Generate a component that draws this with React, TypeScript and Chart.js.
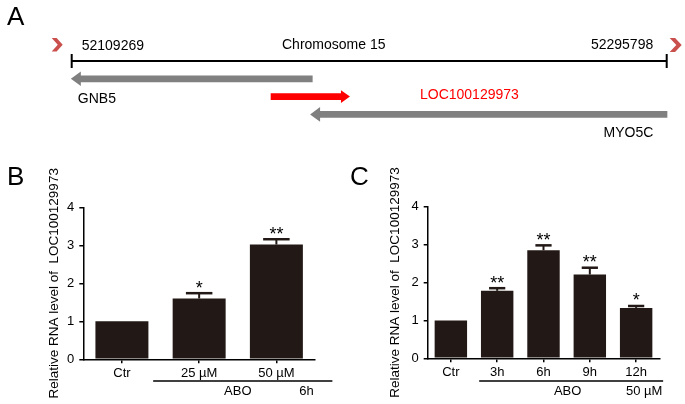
import React, { useEffect, useRef } from 'react';
import { Chart, registerables } from 'chart.js';

Chart.register(...registerables);

const FONT = 'Arial, "Liberation Sans", Helvetica, sans-serif';
const BAR_COLOR = '#221815';

// ---------- Panel A data ----------
const chromosomeName = 'Chromosome 15';
const chromStart = 52109269;
const chromEnd = 52295798;
const geneNames = ['GNB5', 'LOC100129973', 'MYO5C'];
const geneStarts = [52109000, 52171650, 52184000];
const geneEnds = [52184800, 52196500, 52296000];
const geneStrands = [-1, 1, -1];
const geneColors = ['#808080', '#ff0000', '#808080'];
const geneRows = [1, 2, 3];

// ---------- Panel B data ----------
const bCategories = ['Ctr', '25 µM', '50 µM'];
const bValues = [1.0, 1.6, 3.02];
const bErrors = [0, 0.14, 0.14];
const bStars = ['', '*', '**'];
const bGroupLabel = 'ABO';
const bGroupNote = '6h';

// ---------- Panel C data ----------
const cCategories = ['Ctr', '3h', '6h', '9h', '12h'];
const cValues = [1.0, 1.78, 2.85, 2.21, 1.33];
const cErrors = [0, 0.07, 0.13, 0.18, 0.05];
const cStars = ['', '**', '**', '**', '*'];
const cGroupLabel = 'ABO';
const cGroupNote = '50 µM';

const yTicks = [0, 1, 2, 3, 4];
const yTitle = 'Relative RNA level of  LOC100129973';

function drawChevron(ctx: CanvasRenderingContext2D, x: number, y: number, w: number, h: number) {
  ctx.beginPath();
  ctx.moveTo(x, y);
  ctx.lineTo(x + w * 0.45, y);
  ctx.lineTo(x + w, y + h / 2);
  ctx.lineTo(x + w * 0.45, y + h);
  ctx.lineTo(x, y + h);
  ctx.lineTo(x + w * 0.55, y + h / 2);
  ctx.closePath();
  ctx.fill();
}

const panelAPlugin = {
  id: 'panelA',
  afterDatasetsDraw(chart: any) {
    const ctx: CanvasRenderingContext2D = chart.ctx;
    const xs = chart.scales.x;
    const ys = chart.scales.y;
    ctx.save();
    // gene arrows
    geneNames.forEach((g, i) => {
      const meta = chart.getDatasetMeta(i + 1);
      const p0 = meta.data[0];
      const p1 = meta.data[1];
      const y = p0.y;
      const strand = geneStrands[i];
      const tipX = strand < 0 ? p0.x : p1.x;
      const tailX = strand < 0 ? p1.x : p0.x;
      const dir = strand < 0 ? 1 : -1; // direction from tip towards tail
      const L = i === 1 ? 9 : 10;
      const H = i === 1 ? 6.3 : 7.3;
      const s = 3.4;
      ctx.fillStyle = geneColors[i];
      ctx.beginPath();
      ctx.moveTo(tipX, y);
      ctx.lineTo(tipX + dir * L, y - H);
      ctx.lineTo(tipX + dir * L, y - s);
      ctx.lineTo(tailX, y - s);
      ctx.lineTo(tailX, y + s);
      ctx.lineTo(tipX + dir * L, y + s);
      ctx.lineTo(tipX + dir * L, y + H);
      ctx.closePath();
      ctx.fill();
    });

    const x0 = xs.getPixelForValue(chromStart);
    const x1 = xs.getPixelForValue(chromEnd);
    const yc = ys.getPixelForValue(0);

    ctx.font = `14px ${FONT}`;
    ctx.textBaseline = 'middle';
    ctx.fillStyle = '#000';
    ctx.textAlign = 'left';
    ctx.fillText(String(chromStart), x0 + 10, yc - 14.5);
    ctx.fillText(chromosomeName, 282, yc - 16);
    ctx.textAlign = 'right';
    ctx.fillText(String(chromEnd), x1 - 13.5, yc - 16);

    // gene labels
    const gy = (i: number) => ys.getPixelForValue(geneRows[i]);
    ctx.textAlign = 'left';
    ctx.fillStyle = '#000';
    ctx.fillText(geneNames[0], xs.getPixelForValue(geneStarts[0]) + 7, gy(0) + 20.5);
    ctx.fillStyle = geneColors[1];
    ctx.fillText(geneNames[1], xs.getPixelForValue(geneEnds[1]) + 70, gy(1) - 1.5);
    ctx.fillStyle = '#000';
    ctx.textAlign = 'right';
    ctx.fillText(geneNames[2], xs.getPixelForValue(geneEnds[2]) - 14, gy(2) + 18.7);

    // chevrons
    ctx.fillStyle = '#c9504d';
    drawChevron(ctx, x0 - 20, yc - 23, 11, 13.5);
    drawChevron(ctx, x1 + 3, yc - 23, 12, 14);

    // panel letter
    ctx.fillStyle = '#000';
    ctx.textAlign = 'left';
    ctx.textBaseline = 'alphabetic';
    ctx.font = `26px ${FONT}`;
    ctx.fillText('A', 7, 25);
    ctx.restore();
  },
};

function makeBarPlugin(
  errors: number[],
  stars: string[],
  letter: string,
  letterX: number,
  group: { label: string; note: string; from: (p: (i: number) => number) => number; to: (p: (i: number) => number) => number; labelX: (p: (i: number) => number) => number; noteX: (p: (i: number) => number) => number; lineDy: number; textDy: number }
) {
  return {
    id: 'barExtras',
    afterDatasetsDraw(chart: any) {
      const ctx: CanvasRenderingContext2D = chart.ctx;
      const meta = chart.getDatasetMeta(0);
      const ys = chart.scales.y;
      const xs = chart.scales.x;
      const vals = chart.data.datasets[0].data as number[];
      ctx.save();
      meta.data.forEach((bar: any, i: number) => {
        const e = errors[i];
        const yTop = ys.getPixelForValue(vals[i] + e);
        if (e > 0) {
          ctx.strokeStyle = BAR_COLOR;
          ctx.lineWidth = 2;
          ctx.beginPath();
          ctx.moveTo(bar.x, bar.y);
          ctx.lineTo(bar.x, yTop);
          ctx.stroke();
          ctx.lineWidth = 2.5;
          const hw = bar.width / 4;
          ctx.beginPath();
          ctx.moveTo(bar.x - hw, yTop);
          ctx.lineTo(bar.x + hw, yTop);
          ctx.stroke();
        }
        if (stars[i]) {
          ctx.font = `18px ${FONT}`;
          ctx.textAlign = 'center';
          ctx.textBaseline = 'alphabetic';
          ctx.fillStyle = '#000';
          ctx.fillText(stars[i], bar.x, yTop + 0.5);
        }
      });
      // group annotation
      const p = (i: number) => xs.getPixelForValue(i);
      const bottom = chart.chartArea.bottom;
      ctx.strokeStyle = '#000';
      ctx.lineWidth = 1.3;
      ctx.beginPath();
      ctx.moveTo(group.from(p), bottom + group.lineDy);
      ctx.lineTo(group.to(p), bottom + group.lineDy);
      ctx.stroke();
      ctx.fillStyle = '#000';
      ctx.font = `13px ${FONT}`;
      ctx.textAlign = 'center';
      ctx.textBaseline = 'alphabetic';
      ctx.fillText(group.label, group.labelX(p), bottom + group.textDy);
      ctx.fillText(group.note, group.noteX(p), bottom + group.textDy);
      // panel letter
      ctx.font = `26px ${FONT}`;
      ctx.textAlign = 'left';
      ctx.fillText(letter, letterX, 34.5);
      ctx.restore();
    },
  };
}

function barConfig(
  categories: string[],
  values: number[],
  barPct: number,
  yWidth: number,
  xHeight: number,
  padTop: number,
  padRight: number,
  titlePad: number,
  plugin: any
): any {
  const axisColor = '#000';
  return {
    type: 'bar',
    data: {
      labels: categories,
      datasets: [
        {
          label: 'Relative RNA level',
          data: values,
          backgroundColor: BAR_COLOR,
          borderWidth: 0,
          barPercentage: barPct,
          categoryPercentage: 1,
        },
      ],
    },
    options: {
      responsive: false,
      animation: false,
      layout: { padding: { left: 0, right: padRight, top: padTop, bottom: 0 } },
      plugins: { legend: { display: false }, tooltip: { enabled: false } },
      scales: {
        x: {
          offset: true,
          grid: {
            offset: false,
            drawOnChartArea: false,
            drawTicks: true,
            tickLength: 4,
            color: axisColor,
            lineWidth: 1.5,
          },
          border: { display: true, color: axisColor, width: 1.5 },
          ticks: { color: '#000', font: { family: FONT, size: 13 }, padding: 2, maxRotation: 0, autoSkip: false },
          afterFit: (s: any) => {
            s.height = xHeight;
          },
        },
        y: {
          min: 0,
          max: 4,
          afterBuildTicks: (s: any) => {
            s.ticks = yTicks.map((v) => ({ value: v }));
          },
          grid: {
            drawOnChartArea: false,
            drawTicks: true,
            tickLength: 4,
            color: axisColor,
            lineWidth: 1.5,
          },
          border: { display: true, color: axisColor, width: 1.5 },
          ticks: { color: '#000', font: { family: FONT, size: 13 }, padding: 5 },
          title: {
            display: true,
            text: yTitle,
            color: '#000',
            font: { family: FONT, size: 13.5 },
            padding: { top: titlePad, bottom: 0 },
          },
          afterFit: (s: any) => {
            s.width = yWidth;
          },
        },
      },
    },
    plugins: [plugin],
  };
}

export default function App() {
  const aRef = useRef<HTMLCanvasElement>(null);
  const bRef = useRef<HTMLCanvasElement>(null);
  const cRef = useRef<HTMLCanvasElement>(null);

  useEffect(() => {
    const charts: Chart[] = [];
    if (aRef.current) {
      charts.push(
        new Chart(aRef.current, {
          type: 'line',
          data: {
            datasets: [
              {
                label: chromosomeName,
                data: [
                  { x: chromStart, y: 0 },
                  { x: chromEnd, y: 0 },
                ],
                borderColor: '#000',
                borderWidth: 2,
                pointStyle: 'line',
                pointRotation: 90,
                pointRadius: 7,
                pointBorderWidth: 2,
                pointBorderColor: '#000',
                clip: false,
              } as any,
              ...geneNames.map(
                (g, i) =>
                  ({
                    label: g,
                    data: [
                      { x: geneStarts[i], y: geneRows[i] },
                      { x: geneEnds[i], y: geneRows[i] },
                    ],
                    showLine: false,
                    pointRadius: 0,
                    borderColor: geneColors[i],
                    clip: false,
                  } as any)
              ),
            ],
          },
          options: {
            responsive: false,
            animation: false,
            layout: { padding: { left: 71.7, right: 18.3, top: 61, bottom: 35.6 } },
            scales: {
              x: { type: 'linear', min: chromStart, max: chromEnd, display: false },
              y: { type: 'linear', min: 0, max: 3, reverse: true, display: false },
            },
            plugins: { legend: { display: false }, tooltip: { enabled: false } },
          },
          plugins: [panelAPlugin],
        } as any)
      );
    }
    if (bRef.current) {
      const plug = makeBarPlugin(bErrors, bStars, 'B', 7, {
        label: bGroupLabel,
        note: bGroupNote,
        from: (p) => p(1) - 46,
        to: (p) => p(2) + 56,
        labelX: (p) => (p(1) + p(2)) / 2,
        noteX: (p) => p(2) + 30,
        lineDy: 21.7,
        textDy: 35.7,
      });
      charts.push(new Chart(bRef.current, barConfig(bCategories, bValues, 0.686, 83.3, 44.7, 57.3, 25, 46, plug)));
    }
    if (cRef.current) {
      const plug = makeBarPlugin(cErrors, cStars, 'C', 10, {
        label: cGroupLabel,
        note: cGroupNote,
        from: (p) => p(1) - 18,
        to: (p) => p(4) + 27,
        labelX: (p) => (p(2) + p(3)) / 2 + 1,
        noteX: (p) => p(4) + 8,
        lineDy: 22.7,
        textDy: 36.7,
      });
      charts.push(new Chart(cRef.current, barConfig(cCategories, cValues, 0.7, 87.7, 45.7, 56.7, 25.7, 47, plug)));
    }
    return () => {
      charts.forEach((c) => c.destroy());
    };
  }, []);

  return (
    <div style={{ position: 'absolute', left: 0, top: 0, width: 685, height: 404, background: '#fff', overflow: 'hidden' }}>
      <canvas ref={aRef} width={685} height={150} style={{ position: 'absolute', left: 0, top: 0, width: 685, height: 150 }} />
      <canvas ref={bRef} width={340} height={254} style={{ position: 'absolute', left: 0, top: 150, width: 340, height: 254 }} />
      <canvas ref={cRef} width={345} height={254} style={{ position: 'absolute', left: 340, top: 150, width: 345, height: 254 }} />
    </div>
  );
}
